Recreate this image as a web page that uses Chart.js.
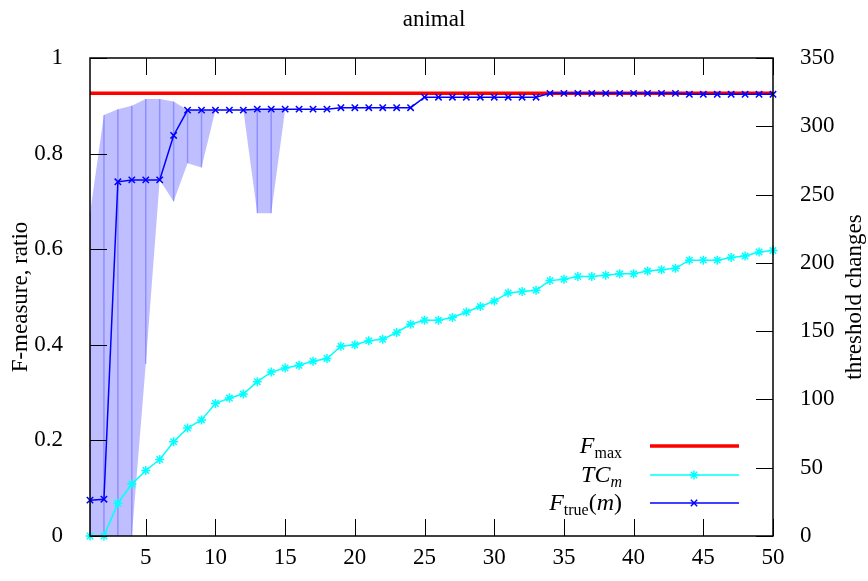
<!DOCTYPE html>
<html><head><meta charset="utf-8">
<script src="https://cdn.jsdelivr.net/npm/chart.js@4.4.1/dist/chart.umd.min.js"></script>
<style>html,body{margin:0;padding:0;background:#fff}#wrap{width:868px;height:581px}</style>
</head><body><div id="wrap"><canvas id="c"></canvas></div>
<script>
const mValues = [1,2,3,4,5,6,7,8,9,10,11,12,13,14,15,16,17,18,19,20,21,22,23,24,25,26,27,28,29,30,31,32,33,34,35,36,37,38,39,40,41,42,43,44,45,46,47,48,49,50];
const fMax = 0.926;
const fTrue = [0.075,0.077,0.741,0.745,0.745,0.745,0.838,0.891,0.891,0.891,0.891,0.891,0.893,0.893,0.893,0.893,0.893,0.893,0.896,0.896,0.896,0.896,0.896,0.896,0.918,0.918,0.918,0.918,0.918,0.918,0.918,0.918,0.918,0.926,0.926,0.926,0.926,0.926,0.926,0.926,0.926,0.926,0.926,0.924,0.924,0.924,0.924,0.924,0.924,0.924];
const tcM = [0,0,24,38,48,56,69,79,85,97,101,104,113,120,123,125,128,130,139,140,143,144,149,155,158,158,160,164,168,172,178,179,180,187,188,190,190,191,192,192,194,195,196,202,202,202,204,205,208,209];
const bandUpper = [0.675,0.881,0.893,0.900,0.914,0.914,0.909,0.891,0.891,0.891,0.891,0.891,0.893,0.893,0.893,0.893,0.893,0.893,0.896,0.896,0.896,0.896,0.896,0.896,0.918,0.918,0.918,0.918,0.918,0.918,0.918,0.918,0.918,0.926,0.926,0.926,0.926,0.926,0.926,0.926,0.926,0.926,0.926,0.924,0.924,0.924,0.924,0.924,0.924,0.924];
const bandLower = [0,0,0,0,0.36,0.745,0.70,0.78,0.771,0.891,0.891,0.891,0.675,0.675,0.893,0.893,0.893,0.893,0.896,0.896,0.896,0.896,0.896,0.896,0.918,0.918,0.918,0.918,0.918,0.918,0.918,0.918,0.918,0.926,0.926,0.926,0.926,0.926,0.926,0.926,0.926,0.926,0.926,0.924,0.924,0.924,0.924,0.924,0.924,0.924];
const xTicks = [5,10,15,20,25,30,35,40,45,50];
const yTicks = [0,0.2,0.4,0.6,0.8,1];
const y2Ticks = [0,50,100,150,200,250,300,350];

const FONT = '"Liberation Serif", "DejaVu Serif", serif';
const FS = 23;

const errPts = [];
mValues.forEach((m,i)=>{
  if (bandUpper[i] > bandLower[i]) {
    errPts.push({x:m,y:bandLower[i]},{x:m,y:bandUpper[i]},{x:m,y:null});
  }
});

const frameTicks = {
  id:'frameTicks',
  afterDatasetsDraw(chart){
    const {ctx, chartArea:a, scales} = chart;
    ctx.save();
    ctx.strokeStyle = '#000';
    ctx.lineWidth = 1;
    const L = 17;
    ctx.beginPath();
    xTicks.forEach(v=>{
      const px = Math.round(scales.x.getPixelForValue(v))+0.5;
      ctx.moveTo(px,a.bottom); ctx.lineTo(px,a.bottom-L);
      ctx.moveTo(px,a.top); ctx.lineTo(px,a.top+L);
    });
    yTicks.forEach(v=>{
      const py = Math.round(scales.y.getPixelForValue(v))+0.5;
      ctx.moveTo(a.left,py); ctx.lineTo(a.left+L,py);
    });
    y2Ticks.forEach(v=>{
      const py = Math.round(scales.y2.getPixelForValue(v))+0.5;
      ctx.moveTo(a.right,py); ctx.lineTo(a.right-L,py);
    });
    ctx.stroke();
    ctx.lineWidth = 1.5;
    ctx.strokeRect(a.left, a.top, a.right-a.left, a.bottom-a.top);
    ctx.restore();
  },
  afterDraw(chart){
    const {ctx, chartArea:a} = chart;
    ctx.save();
    ctx.fillStyle = '#000';
    ctx.translate(855, (a.top+a.bottom)/2);
    ctx.rotate(-Math.PI/2);
    ctx.font = FS+'px '+FONT;
    ctx.textAlign='center'; ctx.textBaseline='middle';
    ctx.fillText('threshold changes',0,0);
    ctx.restore();

    const right = 622;
    const rows = [
      {y:446, parts:[['F','italic',FS+1,0],['max','normal',16,5]], color:'#ff0000', w:3.5, marker:null},
      {y:475, parts:[['TC','italic',FS+1,0],['m','italic',16,5]], color:'#00ffff', w:1.5, marker:'star'},
      {y:503, parts:[['F','italic',FS+1,0],['true','normal',16,5],['(','normal',FS+1,0],['m','italic',FS+1,0],[')','normal',FS+1,0]], color:'#0000ff', w:1.5, marker:'crossRot'}
    ];
    ctx.save();
    ctx.textBaseline='alphabetic';
    ctx.textAlign='left';
    rows.forEach(r=>{
      let total=0;
      r.parts.forEach(p=>{ctx.font=p[1]+' '+p[2]+'px '+FONT; total+=ctx.measureText(p[0]).width;});
      let x = right-total;
      const base = r.y+7;
      r.parts.forEach(p=>{ctx.font=p[1]+' '+p[2]+'px '+FONT; ctx.fillStyle='#000'; ctx.fillText(p[0],x,base+p[3]); x+=ctx.measureText(p[0]).width;});
      ctx.strokeStyle=r.color; ctx.lineWidth=r.w;
      ctx.beginPath(); ctx.moveTo(650,r.y); ctx.lineTo(739,r.y); ctx.stroke();
      if (r.marker) {
        Chart.helpers.drawPoint(ctx,{pointStyle:r.marker,radius:4.5,borderWidth:1.5},694,r.y);
      }
    });
    ctx.restore();
  }
};

new Chart(document.getElementById('c'), {
  type:'line',
  data:{
    datasets:[
      {label:'F_true(m)', data:mValues.map((m,i)=>({x:m,y:fTrue[i]})), yAxisID:'y', borderColor:'#0000ff', backgroundColor:'#0000ff', borderWidth:1.5, pointStyle:'crossRot', pointRadius:4.5, pointBorderWidth:1.5, fill:false, clip:false, order:0},
      {label:'TC_m', data:mValues.map((m,i)=>({x:m,y:tcM[i]})), yAxisID:'y2', borderColor:'#00ffff', backgroundColor:'#00ffff', borderWidth:1.5, pointStyle:'star', pointRadius:4.5, pointBorderWidth:1.5, fill:false, clip:false, order:1},
      {label:'F_max', data:[{x:mValues[0],y:fMax},{x:mValues[mValues.length-1],y:fMax}], yAxisID:'y', borderColor:'#ff0000', borderWidth:3.5, pointRadius:0, fill:false, order:2},
      {label:'err', data:errPts, yAxisID:'y', borderColor:'rgba(0,0,255,0.25)', borderWidth:1.5, pointRadius:0, spanGaps:false, fill:false, order:3},
      {label:'lower', data:mValues.map((m,i)=>({x:m,y:bandLower[i]})), yAxisID:'y', borderWidth:0, borderColor:'rgba(0,0,0,0)', pointRadius:0, fill:false, order:5},
      {label:'upper', data:mValues.map((m,i)=>({x:m,y:bandUpper[i]})), yAxisID:'y', borderWidth:0, borderColor:'rgba(0,0,0,0)', backgroundColor:'rgba(0,0,255,0.25)', pointRadius:0, fill:{target:4}, order:4}
    ]
  },
  plugins:[frameTicks],
  options:{
    responsive:true, maintainAspectRatio:false, animation:false,
    layout:{padding:0},
    elements:{line:{tension:0}},
    plugins:{
      legend:{display:false}, tooltip:{enabled:false},
      title:{display:true, text:'animal', color:'#000', font:{family:FONT,size:FS,weight:'normal'}, padding:{top:6,bottom:24.4}}
    },
    scales:{
      x:{type:'linear', min:1, max:50,
        afterBuildTicks:s=>{s.ticks=xTicks.map(v=>({value:v}));},
        afterFit:s=>{s.height=45;},
        grid:{display:false, drawTicks:false}, border:{display:false},
        ticks:{color:'#000', font:{family:FONT,size:FS}, padding:8, maxRotation:0, autoSkip:false, callback:v=>String(v)}
      },
      y:{type:'linear', position:'left', min:0, max:1,
        afterBuildTicks:s=>{s.ticks=yTicks.map(v=>({value:v}));},
        afterFit:s=>{s.width=90;},
        grid:{display:false, drawTicks:false}, border:{display:false},
        ticks:{color:'#000', font:{family:FONT,size:FS}, padding:27, callback:v=>String(+(+v).toFixed(2))},
        title:{display:true, text:'F-measure, ratio', color:'#000', font:{family:FONT,size:FS}, padding:{top:7,bottom:0}}
      },
      y2:{type:'linear', position:'right', min:0, max:350,
        afterBuildTicks:s=>{s.ticks=y2Ticks.map(v=>({value:v}));},
        afterFit:s=>{s.width=95;},
        grid:{display:false, drawTicks:false}, border:{display:false},
        ticks:{color:'#000', font:{family:FONT,size:FS}, padding:27, callback:v=>String(v)}
      }
    }
  }
});
</script></body></html>
